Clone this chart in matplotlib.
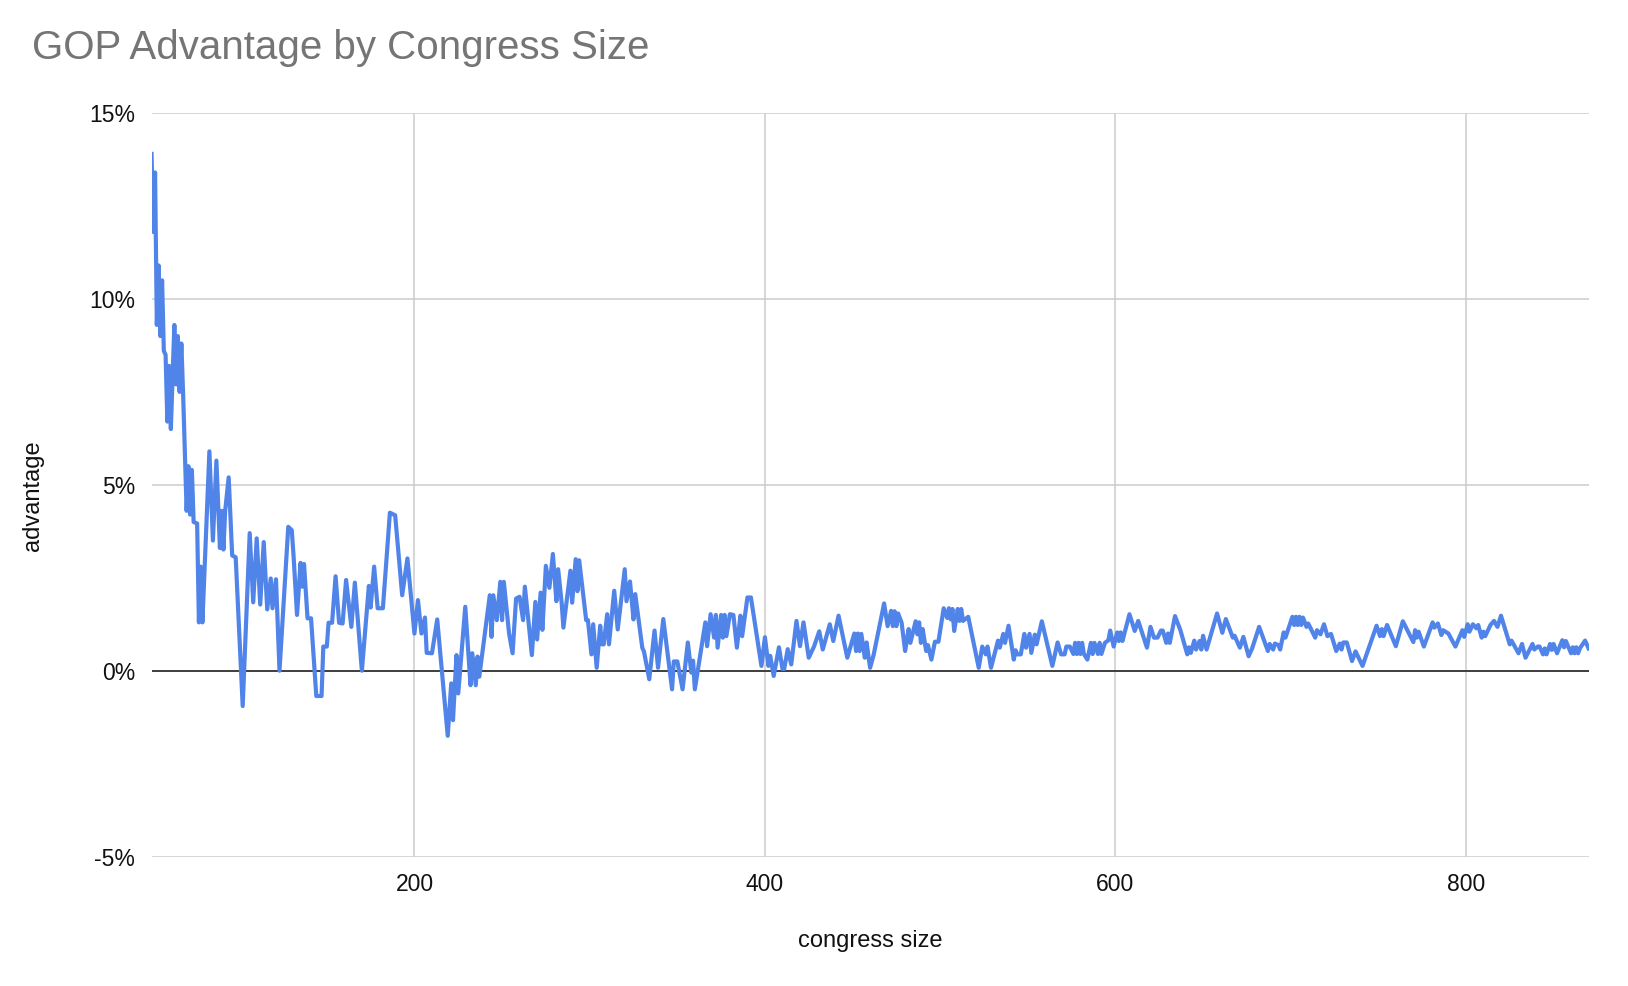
import matplotlib
matplotlib.use("Agg")
from matplotlib import pyplot as plt
from matplotlib.ticker import FuncFormatter

plt.rcParams["font.family"] = ["Liberation Sans", "DejaVu Sans"]

# congress size (seats) and GOP advantage in percent
sizes = [
    50, 51, 52, 53, 54, 55, 56, 57, 58, 59, 60, 61, 63, 64, 65, 66, 67, 68,
    70, 71, 72, 73, 74, 76, 77, 78, 79, 83, 85, 87, 89, 90, 91, 92, 94, 96, 98,
    102, 106, 108, 110, 112, 114, 116, 118, 119, 121, 123, 128, 130, 131, 133,
    135, 136, 137, 139, 141, 144, 147, 148, 150, 151, 153, 155, 157, 159, 161,
    164, 166, 170, 174, 175, 177, 179, 182, 186, 189, 190, 193, 196, 200, 202,
    204, 206, 207, 210, 213, 219, 221, 222, 224, 225, 229, 232, 233, 235, 236,
    237, 243, 244, 245, 247, 249, 250, 251, 254, 256, 258, 260, 262, 263, 265,
    267, 269, 270, 272, 273, 275, 277, 279, 281, 282, 284, 285, 289, 290, 292,
    293, 294, 298, 299, 301, 302, 304, 306, 307, 308, 310, 311, 314, 316, 320,
    321, 323, 325, 326, 330, 331, 334, 337, 339, 342, 347, 348, 350, 353, 356,
    358, 359, 360, 363, 366, 367, 369, 371, 372, 373, 375, 376, 377, 378, 380,
    382, 384, 386, 387, 390, 392, 398, 400, 402, 403, 405, 408, 410, 411, 413,
    415, 418, 420, 422, 425, 428, 431, 433, 437, 439, 442, 447, 451, 452, 453,
    454, 455, 457, 458, 460, 462, 468, 470, 472, 473, 474, 475, 476, 478, 480,
    482, 483, 486, 487, 488, 489, 490, 492, 493, 495, 497, 499, 502, 504, 505,
    506, 507, 508, 510, 511, 512, 513, 516, 522, 524, 526, 527, 529, 533, 534,
    536, 537, 539, 542, 543, 544, 546, 548, 549, 551, 552, 554, 555, 558, 564,
    567, 569, 571, 572, 574, 576, 577, 578, 579, 580, 581, 582, 584, 586, 587,
    588, 590, 591, 592, 594, 596, 597, 599, 601, 602, 603, 604, 608, 611, 613,
    618, 620, 622, 624, 626, 627, 629, 630, 631, 634, 637, 641, 642, 643, 645,
    646, 648, 649, 650, 652, 658, 661, 663, 667, 668, 671, 673, 676, 678, 682,
    687, 688, 690, 691, 693, 694, 696, 697, 701, 702, 703, 704, 705, 706, 707,
    709, 710, 714, 715, 717, 719, 721, 723, 726, 728, 729, 730, 732, 735, 737,
    741, 749, 751, 752, 753, 755, 760, 764, 770, 771, 772, 773, 776, 781, 782,
    784, 786, 787, 790, 794, 798, 799, 801, 802, 804, 806, 807, 809, 810, 811,
    814, 816, 818, 820, 825, 826, 830, 832, 834, 838, 839, 841, 842, 844, 845,
    846, 848, 849, 850, 852, 855, 856, 857, 860, 861, 862, 863, 864, 865, 868,
    870,
]
advantage = [
    13.9, 11.8, 13.4, 9.3, 10.9, 9.0, 10.5, 8.6, 8.5, 6.7, 8.2, 6.5, 9.3, 7.7,
    9.0, 7.5, 8.8, 7.45, 4.3, 5.5, 4.2, 5.4, 4.0, 3.96, 1.3, 2.8, 1.3, 5.9,
    3.5, 5.65, 3.3, 4.3, 3.26, 4.3, 5.2, 3.1, 3.05, -0.95, 3.7, 1.84, 3.56,
    1.78, 3.46, 1.65, 2.48, 1.68, 2.46, 0.0, 3.87, 3.78, 3.11, 1.5, 2.9, 2.26,
    2.87, 1.41, 1.41, -0.68, -0.68, 0.65, 0.65, 1.29, 1.29, 2.54, 1.29, 1.27,
    2.44, 1.18, 2.37, 0.0, 2.28, 1.7, 2.8, 1.68, 1.68, 4.25, 4.18, 3.65, 2.03,
    3.02, 1.0, 1.9, 1.0, 1.43, 0.48, 0.47, 1.38, -1.75, -0.34, -1.33, 0.42,
    -0.61, 1.72, -0.39, 0.47, -0.39, 0.38, -0.16, 2.03, 0.91, 2.03, 1.36, 2.39,
    1.36, 2.39, 1.0, 0.47, 1.94, 1.99, 1.36, 2.26, 1.36, 0.42, 1.85, 0.84, 2.1,
    1.1, 2.82, 2.23, 3.14, 1.87, 2.73, 1.83, 1.16, 2.69, 1.83, 3.0, 2.14, 2.97,
    1.36, 1.36, 0.44, 1.25, 0.08, 1.21, 0.71, 0.71, 1.52, 0.71, 2.15, 1.11,
    2.73, 1.87, 2.4, 1.38, 2.06, 0.62, 0.51, -0.23, 1.08, 0.08, 1.39, -0.5,
    0.25, 0.25, -0.5, 0.76, -0.05, 0.27, -0.5, 0.4, 1.3, 0.66, 1.52, 0.89, 1.5,
    0.62, 1.5, 0.89, 1.5, 0.93, 1.52, 1.5, 0.62, 1.48, 0.93, 1.97, 1.97, 0.13,
    0.9, 0.13, 0.4, -0.14, 0.63, 0.05, 0.05, 0.58, 0.17, 1.34, 0.66, 1.3, 0.35,
    0.65, 1.06, 0.57, 1.25, 0.8, 1.48, 0.35, 1.0, 0.53, 1.0, 0.53, 0.99, 0.35,
    0.76, 0.08, 0.42, 1.81, 1.2, 1.61, 1.2, 1.6, 1.2, 1.54, 1.29, 0.53, 1.12,
    0.75, 1.33, 0.98, 1.3, 0.75, 1.12, 0.53, 0.69, 0.3, 0.78, 0.78, 1.68, 1.42,
    1.68, 1.38, 1.66, 1.07, 1.66, 1.34, 1.66, 1.34, 1.45, 0.08, 0.65, 0.44,
    0.65, 0.08, 0.81, 0.62, 0.99, 0.75, 1.21, 0.3, 0.55, 0.44, 0.44, 0.99,
    0.62, 0.99, 0.48, 0.97, 0.71, 1.33, 0.13, 0.76, 0.44, 0.44, 0.65, 0.65,
    0.45, 0.75, 0.45, 0.75, 0.45, 0.75, 0.45, 0.3, 0.75, 0.45, 0.75, 0.45,
    0.75, 0.45, 0.75, 0.82, 1.08, 0.65, 1.03, 0.8, 1.03, 0.8, 1.52, 1.07, 1.34,
    0.62, 1.18, 0.89, 0.89, 1.08, 1.08, 0.75, 1.0, 0.75, 1.47, 1.1, 0.44, 0.63,
    0.48, 0.81, 0.57, 0.8, 0.57, 0.94, 0.57, 1.54, 1.02, 1.39, 0.89, 0.94,
    0.62, 0.91, 0.39, 0.6, 1.18, 0.53, 0.72, 0.57, 0.73, 0.69, 0.57, 1.03,
    0.89, 1.45, 1.23, 1.45, 1.23, 1.45, 1.23, 1.43, 1.18, 1.27, 0.89, 1.09,
    0.98, 1.25, 0.93, 0.99, 0.53, 0.73, 0.57, 0.76, 0.76, 0.26, 0.52, 0.13,
    1.21, 0.93, 1.12, 0.93, 1.23, 0.66, 1.33, 0.77, 1.09, 0.89, 1.05, 0.65,
    1.3, 1.16, 1.27, 0.96, 1.09, 1.0, 0.65, 1.09, 0.91, 1.25, 1.05, 1.25, 1.14,
    1.23, 0.89, 1.05, 0.93, 1.23, 1.34, 1.18, 1.48, 0.71, 0.81, 0.47, 0.72,
    0.35, 0.72, 0.57, 0.65, 0.65, 0.44, 0.6, 0.44, 0.72, 0.56, 0.72, 0.47,
    0.82, 0.63, 0.8, 0.47, 0.63, 0.47, 0.63, 0.47, 0.6, 0.81, 0.6,
]

y_ticks = [-5, 0, 5, 10, 15]
x_ticks = [200, 400, 600, 800]

fig = plt.figure(figsize=(16.28, 9.86), dpi=100)
ax = fig.add_axes([0.0931, 0.1312, 0.8827, 0.7542])

ax.plot(sizes, advantage, color="#5184e9", lw=3.0, solid_joinstyle="round", zorder=3)
ax.axhline(0, color="#333333", lw=1.3, zorder=2)

ax.set_xlim(50, 870)
ax.set_ylim(-5, 15)
ax.set_xticks(x_ticks)
ax.set_yticks(y_ticks)
ax.yaxis.set_major_formatter(FuncFormatter(lambda v, _: f"{v:.0f}%"))
ax.grid(True, color="#cccccc", lw=1.1, zorder=1)
for s in ax.spines.values():
    s.set_visible(False)
ax.tick_params(length=0, labelsize=16.5, colors="#111111", pad=12)

ax.set_xlabel("congress size", fontsize=17, color="#111111", labelpad=24)
ax.set_ylabel("advantage", fontsize=17, color="#111111")
ax.yaxis.set_label_coords(-0.075, 0.485)

fig.text(0.0195, 0.94, "GOP Advantage by Congress Size", fontsize=29,
         color="#757575", ha="left", va="baseline")

fig.savefig("out.png", dpi=100)
